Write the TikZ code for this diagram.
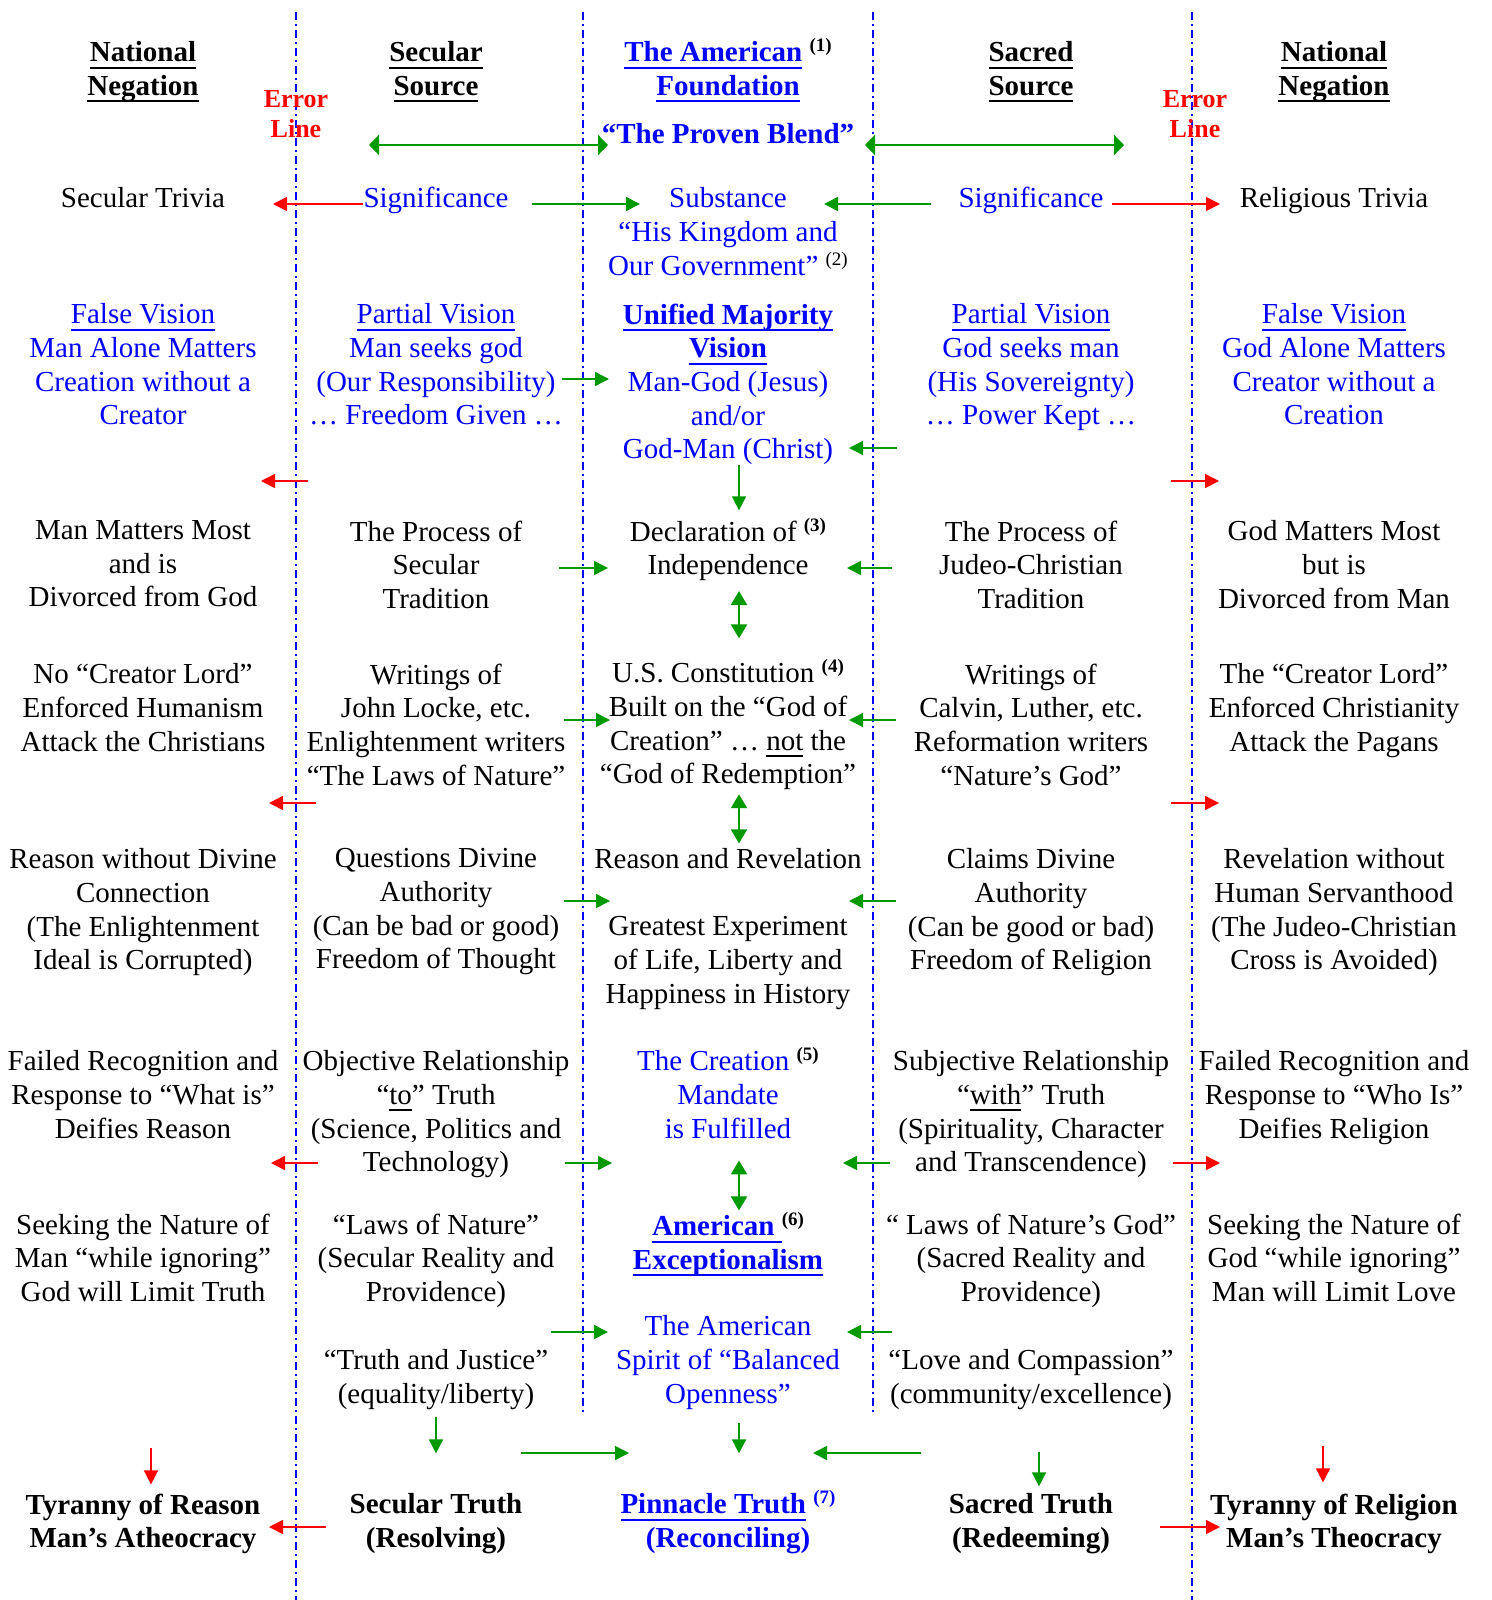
\documentclass[tikz,border=0pt]{standalone}
\usepackage{fontspec}
\setmainfont{Liberation Serif}
\usetikzlibrary{arrows.meta}
\definecolor{arrgreen}{RGB}{0,153,0}
\newcommand{\undl}[1]{\setbox0\hbox{#1}\rlap{\rule[-7pt]{\wd0}{2pt}}\box0{}}
\newcommand{\fn}[2][black]{\smash{\raisebox{10pt}{\color{#1}\fontsize{19}{19}\selectfont\bfseries(#2)}}}
\newcommand{\fnr}[2][black]{\smash{\raisebox{10pt}{\color{#1}\fontsize{19}{19}\selectfont(#2)}}}

\begin{document}
\begin{tikzpicture}[x=1pt, y=-1pt,
	txt/.style={align=center, inner sep=0pt, anchor=north, yshift=19.6pt, font=\fontsize{29}{33.7}\selectfont, execute at begin node=\strut},
	hd/.style={txt, font=\fontsize{29}{33.7}\selectfont\bfseries},
	bl/.style={text=blue},
	err/.style={align=center, inner sep=0pt, anchor=north, yshift=16.7pt, text=red, font=\fontsize{26}{29.6}\selectfont\bfseries, execute at begin node=\strut},
	sep/.style={blue, line width=1.5pt, dash pattern=on 8pt off 4pt on 2pt off 4pt},
	ga/.style={arrgreen, line width=1.5pt, -{Triangle[length=14pt,width=14pt]}},
	ra/.style={red, line width=1.5pt, -{Triangle[length=14pt,width=14pt]}},
	gv/.style={arrgreen, line width=2pt, {Triangle[length=14pt,width=16pt]}-{Triangle[length=14pt,width=16pt]}},
	gb/.style={arrgreen, line width=2.5pt, {Triangle[length=10pt,width=20pt]}-{Triangle[length=10pt,width=20pt]}}]
	\useasboundingbox[fill=white] (0,0) rectangle (1491,1600);

	% column separators
	\draw[sep] (296,12) -- (296,1600);
	\draw[sep] (583,12) -- (583,1413);
	\draw[sep] (873,12) -- (873,1413);
	\draw[sep] (1192,12) -- (1192,1600);

	% headers
	\node[hd] (nn1) at (143,61) {\undl{National}\\\undl{Negation}};
	\node[hd] (ss2) at (436,61) {\undl{Secular}\\\undl{Source}};
	\node[hd,bl] (af3) at (728,61) {\undl{The American} \fn{1}\\\undl{Foundation}};
	\node[hd] (ss4) at (1031,61) {\undl{Sacred}\\\undl{Source}};
	\node[hd] (nn5) at (1334,61) {\undl{National}\\\undl{Negation}};
	\node[err] (el1) at (296,107) {Error\\Line};
	\node[err] (el2) at (1195,107) {Error\\Line};
	\node[hd,bl] (pb) at (728,139) {“The Proven Blend”};

	% trivia / significance / substance
	\node[txt] (st1) at (143,203) {Secular Trivia};
	\node[txt,bl] (sg2) at (436,203) {Significance};
	\node[txt,bl] (sb3) at (728,207) {Substance\\“His Kingdom and\\Our Government” \fnr{2}};
	\node[txt,bl] (sg4) at (1031,203) {Significance};
	\node[txt] (rt5) at (1334,203) {Religious Trivia};

	% visions
	\node[txt,bl] (fv1) at (143,323) {\undl{False Vision}\\Man Alone Matters\\Creation without a\\Creator};
	\node[txt,bl] (pv2) at (436,323) {\undl{Partial Vision}\\Man seeks god\\(Our Responsibility)\\… Freedom Given …};
	\node[txt,bl] (um3) at (728,323) {\textbf{\undl{Unified Majority}}\\\textbf{\undl{Vision}}\\Man-God (Jesus)\\and/or\\God-Man (Christ)};
	\node[txt,bl] (pv4) at (1031,323) {\undl{Partial Vision}\\God seeks man\\(His Sovereignty)\\… Power Kept …};
	\node[txt,bl] (fv5) at (1334,323) {\undl{False Vision}\\God Alone Matters\\Creator without a\\Creation};

	% declaration row
	\node[txt] (mm1) at (143,540) {Man Matters Most\\and is\\Divorced from God};
	\node[txt] (pt2) at (436,540) {The Process of\\Secular\\Tradition};
	\node[txt] (di3) at (728,540) {Declaration of \fn{3}\\Independence};
	\node[txt] (pt4) at (1031,540) {The Process of\\Judeo-Christian\\Tradition};
	\node[txt] (gm5) at (1334,540) {God Matters Most\\but is\\Divorced from Man};

	% constitution row
	\node[txt] (cl1) at (143,683) {No “Creator Lord”\\Enforced Humanism\\Attack the Christians};
	\node[txt] (wl2) at (436,683) {Writings of\\John Locke, etc.\\Enlightenment writers\\“The Laws of Nature”};
	\node[txt] (uc3) at (728,683) {U.S. Constitution \fn{4}\\Built on the “God of\\Creation” … \undl{not} the\\“God of Redemption”};
	\node[txt] (wc4) at (1031,683) {Writings of\\Calvin, Luther, etc.\\Reformation writers\\“Nature’s God”};
	\node[txt] (cl5) at (1334,683) {The “Creator Lord”\\Enforced Christianity\\Attack the Pagans};

	% reason row
	\node[txt] (rw1) at (143,868) {Reason without Divine\\Connection\\(The Enlightenment\\Ideal is Corrupted)};
	\node[txt] (qd2) at (436,868) {Questions Divine\\Authority\\(Can be bad or good)\\Freedom of Thought};
	\node[txt] (rr3) at (728,864) {Reason and Revelation};
	\node[txt] (ge3) at (728,936) {Greatest Experiment\\of Life, Liberty and\\Happiness in History};
	\node[txt] (cd4) at (1031,868) {Claims Divine\\Authority\\(Can be good or bad)\\Freedom of Religion};
	\node[txt] (rw5) at (1334,868) {Revelation without\\Human Servanthood\\(The Judeo-Christian\\Cross is Avoided)};

	% relationship row
	\node[txt] (fr1) at (143,1070) {Failed Recognition and\\Response to “What is”\\Deifies Reason};
	\node[txt] (or2) at (436,1070) {Objective Relationship\\“\undl{to}” Truth\\(Science, Politics and\\Technology)};
	\node[txt,bl] (cm3) at (728,1070) {The Creation \fn{5}\\Mandate\\is Fulfilled};
	\node[txt] (sr4) at (1031,1070) {Subjective Relationship\\“\undl{with}” Truth\\(Spirituality, Character\\and Transcendence)};
	\node[txt] (fr5) at (1334,1070) {Failed Recognition and\\Response to “Who Is”\\Deifies Religion};

	% nature row
	\node[txt] (sn1) at (143,1233) {Seeking the Nature of\\Man “while ignoring”\\God will Limit Truth};
	\node[txt] (ln2) at (436,1233) {“Laws of Nature”\\(Secular Reality and\\Providence)};
	\node[txt,bl] (ae3) at (728,1235) {\textbf{\undl{American\ }}\fn{6}\\\textbf{\undl{Exceptionalism}}};
	\node[txt] (ln4) at (1031,1233) {“ Laws of Nature’s God”\\(Sacred Reality and\\Providence)};
	\node[txt] (sn5) at (1334,1233) {Seeking the Nature of\\God “while ignoring”\\Man will Limit Love};

	\node[txt,bl] (sp3) at (728,1335) {The American\\Spirit of “Balanced\\Openness”};
	\node[txt] (tj2) at (436,1369) {“Truth and Justice”\\(equality/liberty)};
	\node[txt] (lc4) at (1031,1369) {“Love and Compassion”\\(community/excellence)};

	% bottom row
	\node[hd] (tr1) at (143,1513) {Tyranny of Reason\\Man’s Atheocracy};
	\node[hd] (st2) at (436,1513) {Secular Truth\\(Resolving)};
	\node[hd,bl] (pn3) at (728,1513) {\undl{Pinnacle Truth} \fn[blue]{7}\\(Reconciling)};
	\node[hd] (sd4) at (1031,1513) {Sacred Truth\\(Redeeming)};
	\node[hd] (tr5) at (1334,1513) {Tyranny of Religion\\Man’s Theocracy};

	% arrow ends
	\coordinate (b1a) at (369,145);  \coordinate (b1b) at (608,145);
	\coordinate (b2a) at (865,145);  \coordinate (b2b) at (1124,145);
	\coordinate (r1a) at (363,204);  \coordinate (r1b) at (273,204);
	\coordinate (g1a) at (532,204);  \coordinate (g1b) at (640,204);
	\coordinate (g2a) at (931,204);  \coordinate (g2b) at (824,204);
	\coordinate (r2a) at (1112,204); \coordinate (r2b) at (1220,204);
	\coordinate (g3a) at (562,379);  \coordinate (g3b) at (609,379);
	\coordinate (g4a) at (897,448);  \coordinate (g4b) at (849,448);
	\coordinate (r3a) at (308,481);  \coordinate (r3b) at (261,481);
	\coordinate (r4a) at (1171,481); \coordinate (r4b) at (1219,481);
	\coordinate (g5a) at (559,568);  \coordinate (g5b) at (608,568);
	\coordinate (g6a) at (892,568);  \coordinate (g6b) at (847,568);
	\coordinate (g7a) at (564,720);  \coordinate (g7b) at (610,720);
	\coordinate (g8a) at (896,720);  \coordinate (g8b) at (849,720);
	\coordinate (r5a) at (316,803);  \coordinate (r5b) at (269,803);
	\coordinate (r6a) at (1171,803); \coordinate (r6b) at (1219,803);
	\coordinate (g9a) at (564,901);  \coordinate (g9b) at (610,901);
	\coordinate (g10a) at (896,901); \coordinate (g10b) at (849,901);
	\coordinate (r7a) at (318,1163); \coordinate (r7b) at (271,1163);
	\coordinate (g11a) at (565,1163); \coordinate (g11b) at (612,1163);
	\coordinate (g12a) at (890,1163); \coordinate (g12b) at (843,1163);
	\coordinate (r8a) at (1173,1163); \coordinate (r8b) at (1220,1163);
	\coordinate (g13a) at (551,1332); \coordinate (g13b) at (608,1332);
	\coordinate (g14a) at (892,1332); \coordinate (g14b) at (847,1332);
	\coordinate (g15a) at (521,1453); \coordinate (g15b) at (629,1453);
	\coordinate (g16a) at (921,1453); \coordinate (g16b) at (813,1453);
	\coordinate (r9a) at (326,1527);  \coordinate (r9b) at (269,1527);
	\coordinate (r10a) at (1160,1527); \coordinate (r10b) at (1220,1527);
	\coordinate (ta1) at (151,1448);  \coordinate (ta5) at (1323,1446);

	% horizontal arrows
	\draw[gb] (b1a) -- (b1b);
	\draw[gb] (b2a) -- (b2b);
	\draw[ra] (r1a) -- (r1b);
	\draw[ga] (g1a) -- (g1b);
	\draw[ga] (g2a) -- (g2b);
	\draw[ra] (r2a) -- (r2b);
	\draw[ga] (g3a) -- (g3b);
	\draw[ga] (g4a) -- (g4b);
	\draw[ra] (r3a) -- (r3b);
	\draw[ra] (r4a) -- (r4b);
	\draw[ga] (g5a) -- (g5b);
	\draw[ga] (g6a) -- (g6b);
	\draw[ga] (g7a) -- (g7b);
	\draw[ga] (g8a) -- (g8b);
	\draw[ra] (r5a) -- (r5b);
	\draw[ra] (r6a) -- (r6b);
	\draw[ga] (g9a) -- (g9b);
	\draw[ga] (g10a) -- (g10b);
	\draw[ra] (r7a) -- (r7b);
	\draw[ga] (g11a) -- (g11b);
	\draw[ga] (g12a) -- (g12b);
	\draw[ra] (r8a) -- (r8b);
	\draw[ga] (g13a) -- (g13b);
	\draw[ga] (g14a) -- (g14b);
	\draw[ga] (g15a) -- (g15b);
	\draw[ga] (g16a) -- (g16b);
	\draw[ra] (r9a) -- (r9b);
	\draw[ra] (r10a) -- (r10b);

	% vertical arrows
	\draw[ga, shorten >=10pt] ([xshift=11pt,yshift=4pt]um3.south) -- ([xshift=11pt]di3.north);
	\draw[gv, shorten <=6pt, shorten >=25pt] ([xshift=11pt]di3.south) -- ([xshift=11pt]uc3.north);
	\draw[gv, shorten >=1pt] ([xshift=11pt]uc3.south) -- ([xshift=11pt]rr3.north);
	\draw[gv, shorten <=12pt, shorten >=5pt] ([xshift=11pt]cm3.south) -- ([xshift=11pt]ae3.north);
	\draw[ga, shorten <=10pt, shorten >=40pt] ([xshift=11pt]sp3.south) -- ([xshift=11pt]pn3.north);
	\draw[ga, shorten <=3pt, shorten >=40pt] (tj2.south) -- (st2.north);
	\draw[ga, shorten <=38pt, shorten >=7pt] ([xshift=8pt]lc4.south) -- ([xshift=8pt]sd4.north);
	\draw[ra, shorten >=9pt] (ta1) -- (ta1 |- tr1.north);
	\draw[ra, shorten >=11pt] (ta5) -- (ta5 |- tr5.north);
\end{tikzpicture}
\end{document}
